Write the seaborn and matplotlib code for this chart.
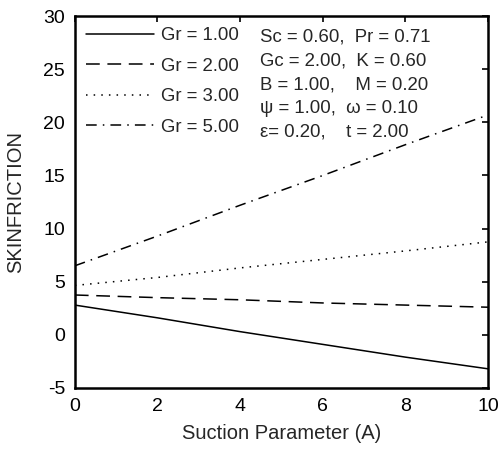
import numpy as np
import pandas as pd
import matplotlib
matplotlib.use("Agg")
import matplotlib.pyplot as plt
import seaborn as sns

A = [0, 2, 4, 6, 8, 10]
gr_labels = ["Gr = 1.00", "Gr = 2.00", "Gr = 3.00", "Gr = 5.00"]
sf_gr1 = [2.8, 1.6, 0.3, -0.9, -2.1, -3.2]
sf_gr2 = [3.75, 3.5, 3.3, 3.0, 2.8, 2.6]
sf_gr3 = [4.65, 5.4, 6.3, 7.1, 7.9, 8.75]
sf_gr5 = [6.5, 9.3, 12.2, 15.0, 17.9, 20.7]
annot = ["Sc = 0.60,  Pr = 0.71",
         "Gc = 2.00,  K = 0.60",
         "B = 1.00,    M = 0.20",
         "ψ = 1.00,  ω = 0.10",
         "ε= 0.20,    t = 2.00"]

series = [sf_gr1, sf_gr2, sf_gr3, sf_gr5]
df = pd.concat([pd.DataFrame({"A": A, "SF": s, "Gr": g}) for s, g in zip(series, gr_labels)])

sns.set_style("white")
plt.rcParams['font.family'] = ['Liberation Sans', 'DejaVu Sans']
plt.rcParams['axes.unicode_minus'] = False

fig = plt.figure(figsize=(4.99, 4.49), dpi=100)
ax = fig.add_axes([0.150, 0.136, 0.828, 0.828])

dashes = ["", (9, 5), (1, 4), (7, 4, 1, 4)]
sns.lineplot(data=df, x="A", y="SF", style="Gr", style_order=gr_labels,
             dashes=dashes, color="black", linewidth=1.1, ax=ax, legend=True)

ax.set_xlim(0, 10)
ax.set_ylim(-5, 30)
ax.set_xticks([0, 2, 4, 6, 8, 10])
ax.set_yticks([-5, 0, 5, 10, 15, 20, 25, 30])
ax.tick_params(direction="in", length=4, width=1.2, top=True, right=True,
               labelsize=14, colors="black", pad=7)
for sp in ax.spines.values():
    sp.set_visible(True)
    sp.set_linewidth(1.8)
    sp.set_color("black")
ax.set_xlabel("Suction Parameter (A)", fontsize=14.5, labelpad=7)
ax.set_ylabel("SKINFRICTION", fontsize=14.5, labelpad=13)

leg = ax.legend(loc="upper left", frameon=False, fontsize=13.4, handlelength=3.65,
                labelspacing=0.72, borderaxespad=0.2, handletextpad=0.4,
                bbox_to_anchor=(0.0, 1.0))

y0 = 0.9435
for i, t in enumerate(annot):
    ax.text(0.448, y0 - i * 0.0637, t, transform=ax.transAxes, fontsize=13.4,
            va="center", ha="left")

fig.savefig("out.png", dpi=100)
